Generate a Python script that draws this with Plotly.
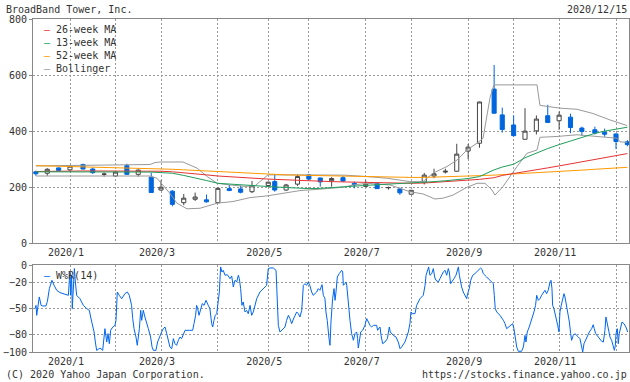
import plotly.graph_objects as go
from datetime import datetime, timedelta

# ---------------- data ----------------
week_dates = ["2019-12-16","2019-12-23","2019-12-30","2020-01-06","2020-01-14","2020-01-20","2020-01-27",
              "2020-02-03","2020-02-10","2020-02-17","2020-02-25","2020-03-02","2020-03-09","2020-03-16",
              "2020-03-23","2020-03-30","2020-04-06","2020-04-13","2020-04-20","2020-04-27","2020-05-07",
              "2020-05-11","2020-05-18","2020-05-25","2020-06-01","2020-06-08","2020-06-15","2020-06-22",
              "2020-06-29","2020-07-06","2020-07-13","2020-07-20","2020-07-27","2020-08-03","2020-08-11",
              "2020-08-17","2020-08-24","2020-08-31","2020-09-07","2020-09-14","2020-09-23","2020-09-28",
              "2020-10-05","2020-10-12","2020-10-19","2020-10-26","2020-11-02","2020-11-09","2020-11-16",
              "2020-11-24","2020-11-30","2020-12-07","2020-12-14"]
opens  = [255,250,269,262,281,265,246,240,277,246,236,190,186,145,157,155,145,195,194,184,206,220,190,211,
          244,233,223,234,214,203,213,198,194,175,218,240,254,257,329,357,550,458,422,371,401,455,437,450,
          411,405,396,390,362]
highs  = [259,268,270,278,284,270,252,258,284,264,252,225,190,176,181,174,199,208,206,222,220,247,212,244,
          247,234,236,240,220,224,214,202,199,190,251,266,266,355,354,505,636,484,456,482,456,494,470,462,
          416,416,409,391,368]
lows   = [241,241,258,256,263,247,238,237,244,238,180,187,132,136,151,145,143,188,178,179,205,184,187,205,
          224,202,202,219,196,200,194,192,173,174,210,232,249,256,300,341,463,395,381,371,388,429,405,393,
          383,388,380,336,346]
closes = [248,264,260,275,265,252,247,254,246,261,181,200,139,161,165,148,196,188,182,205,218,190,208,238,
          229,219,231,222,208,211,195,199,180,189,243,248,257,318,343,504,464,406,384,400,443,431,457,413,
          399,393,389,363,352]

ma26 = [256,257,257,257,258,258,258,258,258,258,258,257,255,252,248,244,240,237,234,231,229,228,226,224,
        222,221,220,219,218,217,217,216,215,214,215,217,219,221,224,228,234,242,249,255,262,269,276,283,
        290,298,305,313,320]
ma13 = [255,255,255,255,255,255,254,254,254,253,254,252,250,242,234,224,214,211,208,205,203,201,199,197,
        195,196,199,202,205,207,209,211,213,214,217,220,223,227,231,238,262,272,282,305,322,338,352,365,
        378,392,400,408,414]
ma52 = [277,276,275,275,274,273,272,271,270,269,268,266,264,262,260,257,254,252,250,248,246,245,244,243,
        242,241,240,239,238,237,236,236,235,235,235,236,236,237,239,241,243,245,247,249,251,254,256,258,
        261,264,266,268,271]

# Bollinger bands (daily): (days after 2019-12-16, value)
bb_upper = [(0,276),(16.7,277),(39.5,278),(49.3,280),(70.2,281),(73.3,288),(76.4,290),(90.5,290),(94.8,280),
            (99.2,268),(105.5,238),(111.5,214),(119.5,208),(128.7,203),(134.8,205),(139.2,225),(142.8,244),
            (162.5,244),(190.2,243),(203.8,238),(216.2,232),(230.2,220),(238.2,220),(244.4,250),(253.0,274),
            (259.2,297),(265.3,333),(271.5,357),(275.2,375),(279.5,520),(281.9,565),(308.4,565),(310.2,492),
            (322.5,482),(333.0,478),(342.8,463),(353.3,440),(363.8,420)]
bb_lower = [(0,240),(39.5,240),(70.2,240),(74.5,232),(79.5,200),(82.5,178),(86.8,143),(93.0,123),(101.0,125),
            (111.5,143),(121.3,149),(131.8,163),(142.2,169),(152.1,179),(162.5,188),(174.8,193),(189.0,200),
            (195.2,208),(203.8,214),(218.0,208),(230.2,184),(238.2,176),(245.6,158),(250.5,161),(256.7,172),
            (265.3,200),(271.5,214),(276.4,214),(280.7,190),(282.5,172),(287.4,202),(296.1,274),(302.2,321),
            (308.4,333),(310.2,378),(320.7,381),(333.0,387),(347.2,380),(357.6,375),(359.5,362),(363.8,360)]

# Williams %R(14), daily: (days after 2019-12-16, value)
wr_points = [
    (-0.5,-50.0),(0.1,-46.2),(0.5,-57.7),(1.5,-42.3),(2.1,-36.5),(3.2,-46.2),(4.2,-46.9),(6.2,-46.9),
    (7.1,-41.5),(8.3,-26.9),(9.1,-21.2),(9.9,-17.3),(11.2,-23.1),(12.8,-28.8),(14.8,-31.5),(16.9,-32.7),
    (18.9,-33.5),(20.0,-34.6),(20.6,-17.3),(21.0,-7.7),(21.4,-34.6),(22.0,-11.5),(22.4,-50.0),(23.1,-19.2),
    (23.7,-3.8),(24.3,-19.2),(25.1,-34.6),(27.1,-38.5),(29.2,-46.2),(31.3,-50.0),(32.9,-51.9),(33.7,-59.6),
    (35.0,-69.2),(35.8,-76.9),(36.6,-88.5),(37.4,-98.1),(38.4,-96.9),(39.5,-95.4),(41.1,-98.1),(41.9,-84.6),
    (42.5,-73.1),(43.6,-88.5),(44.4,-78.8),(45.2,-90.4),(46.0,-75.0),(47.3,-71.2),(48.7,-69.2),(49.3,-63.5),
    (50.1,-30.8),(51.3,-34.6),(52.8,-38.5),(54.8,-32.7),(56.3,-30.8),(57.5,-34.6),(58.9,-46.2),(59.6,-61.5),
    (60.4,-73.1),(61.6,-82.7),(62.4,-92.3),(63.7,-73.1),(64.5,-51.9),(65.1,-63.5),(66.1,-51.9),(67.1,-59.6),
    (68.2,-65.4),(69.2,-73.1),(70.6,-82.7),(71.5,-94.2),(72.3,-98.1),(73.9,-98.1),(74.9,-88.5),(76.0,-82.7),
    (77.4,-76.9),(78.4,-73.1),(79.5,-71.2),(80.5,-78.8),(81.5,-86.5),(82.5,-94.2),(83.6,-96.2),(84.6,-84.6),
    (85.6,-90.4),(86.6,-92.3),(87.7,-86.5),(88.7,-82.7),(89.7,-84.6),(90.7,-78.8),(91.8,-75.0),(94.4,-75.0),
    (96.5,-75.0),(97.3,-67.3),(98.3,-57.7),(98.9,-46.2),(99.6,-50.0),(100.4,-57.7),(101.4,-50.0),(102.4,-44.2),
    (103.5,-46.2),(104.7,-40.4),(106.1,-46.2),(107.1,-50.0),(108.2,-67.3),(108.8,-71.2),(109.6,-63.5),
    (110.4,-57.7),(111.3,-55.8),(112.3,-42.3),(112.9,-30.8),(113.7,-1.9),(114.5,-7.7),(115.3,-5.8),
    (116.4,-11.5),(117.8,-10.8),(119.5,-15.4),(120.5,-12.3),(121.5,-25.0),(122.5,-17.3),(123.6,-19.2),
    (124.6,-11.5),(125.2,-15.4),(126.0,-26.9),(126.8,-46.2),(127.6,-42.3),(128.7,-53.8),(129.7,-51.9),
    (130.7,-55.8),(131.8,-46.2),(132.8,-57.7),(133.8,-53.8),(134.8,-46.2),(135.9,-38.5),(137.9,-30.8),
    (140.0,-26.9),(142.0,-23.1),(143.0,-3.8),(144.1,-3.1),(146.1,-3.1),(147.8,-5.8),(148.6,-42.3),
    (149.2,-69.2),(150.2,-76.9),(151.9,-74.2),(153.3,-71.2),(154.3,-63.5),(155.4,-57.7),(156.4,-61.5),
    (157.4,-67.3),(158.8,-60.8),(160.5,-53.8),(161.5,-55.8),(162.5,-59.6),(163.6,-51.9),(164.6,-23.1),
    (165.6,-21.2),(166.6,-23.1),(167.6,-19.2),(168.7,-23.8),(169.7,-30.8),(170.7,-34.6),(172.8,-30.8),
    (173.8,-26.9),(174.8,-28.8),(176.1,-22.3),(176.9,-34.6),(177.9,-38.5),(178.5,-53.8),(179.3,-63.5),
    (180.4,-84.6),(181.0,-92.3),(181.6,-65.4),(182.6,-38.5),(183.5,-26.9),(184.1,-40.4),(184.7,-30.8),
    (185.5,-13.5),(186.7,-9.6),(188.2,-5.8),(188.8,-7.7),(189.2,-23.1),(190.2,-21.2),(190.8,-19.2),
    (191.3,-23.1),(192.3,-46.2),(193.3,-63.5),(194.3,-78.8),(195.4,-86.5),(196.4,-78.8),(197.4,-76.9),
    (198.0,-84.6),(198.4,-95.4),(199.0,-88.5),(199.9,-76.9),(201.1,-75.0),(202.5,-69.2),(203.6,-61.5),
    (204.6,-65.4),(205.6,-69.2),(206.6,-71.2),(207.7,-69.2),(209.7,-69.2),(210.3,-75.0),(211.2,-72.3),
    (211.8,-71.2),(212.4,-80.8),(213.4,-90.4),(214.8,-88.5),(216.3,-84.6),(217.5,-71.2),(218.1,-76.9),
    (220.0,-80.8),(221.6,-82.7),(223.0,-88.5),(224.1,-96.2),(225.1,-94.2),(226.1,-91.5),(227.1,-88.5),
    (228.2,-82.7),(229.2,-76.9),(230.2,-67.3),(230.8,-53.8),(231.9,-55.8),(233.3,-55.8),(234.3,-46.2),
    (235.4,-42.3),(236.4,-38.5),(238.4,-34.6),(239.5,-23.1),(240.1,-11.5),(240.9,-5.8),(241.7,-1.9),
    (242.5,-11.5),(243.6,-9.6),(244.6,-3.8),(245.4,-13.5),(246.2,-17.3),(247.7,-19.2),(248.7,-15.4),
    (249.7,-11.5),(250.7,-7.7),(251.8,-5.8),(252.8,-11.5),(253.8,-3.8),(254.4,-7.7),(255.2,-21.2),
    (256.3,-17.3),(257.3,-15.4),(258.5,-11.5),(260.0,-1.9),(260.6,-11.5),(261.4,-21.2),(262.0,-25.0),
    (263.0,-30.8),(264.1,-34.6),(265.1,-38.5),(265.7,-32.7),(266.7,-26.9),(267.6,-17.3),(268.8,-11.5),
    (270.2,-9.6),(271.2,-7.7),(272.7,-4.6),(273.7,-3.1),(274.5,-4.6),(275.3,-9.6),(277.4,-13.5),
    (279.4,-17.3),(281.5,-21.2),(282.1,-34.6),(282.7,-50.0),(283.6,-53.8),(285.6,-57.7),(287.7,-63.5),
    (288.7,-67.3),(289.7,-73.1),(291.8,-69.2),(293.4,-67.3),(294.2,-73.1),(295.0,-84.6),(295.9,-94.2),
    (296.9,-99.2),(298.9,-99.2),(300.0,-94.2),(301.0,-80.8),(301.6,-88.5),(302.4,-76.9),(303.6,-71.2),
    (305.1,-63.5),(306.5,-53.8),(307.5,-46.2),(308.2,-34.6),(309.2,-40.4),(310.2,-38.5),(311.2,-34.6),
    (313.3,-28.8),(314.3,-32.7),(315.3,-28.8),(316.4,-19.2),(317.0,-17.3),(317.6,-26.9),(318.0,-46.2),
    (318.8,-50.0),(320.1,-63.5),(321.1,-69.2),(321.9,-76.9),(322.5,-53.8),(323.3,-46.2),(324.2,-38.5),
    (325.0,-32.7),(325.6,-36.5),(326.6,-46.2),(327.4,-53.8),(328.3,-65.4),(329.1,-78.8),(329.7,-86.5),
    (330.7,-80.8),(331.7,-78.8),(333.8,-82.7),(334.8,-84.6),(335.9,-94.2),(336.5,-100.0),(337.3,-90.4),
    (338.3,-86.5),(339.3,-80.8),(340.6,-76.9),(342.0,-73.1),(343.0,-68.5),(343.6,-73.1),(344.5,-78.8),
    (346.1,-82.7),(348.2,-87.7),(349.2,-88.5),(350.2,-75.0),(350.8,-59.6),(351.6,-67.3),(352.5,-76.9),
    (353.3,-82.7),(354.3,-86.5),(355.3,-94.2),(356.0,-98.1),(356.6,-92.3),(357.0,-78.8),(357.8,-73.1),
    (358.4,-90.4),(359.0,-78.8),(359.9,-73.1),(360.7,-65.4),(361.9,-67.3),(363.1,-71.2),(364.2,-76.9),
]

month_ticks = ["2020-01-06","2020-02-03","2020-03-02","2020-04-06","2020-05-07","2020-06-01",
               "2020-07-06","2020-08-03","2020-09-07","2020-10-05","2020-11-02","2020-12-07"]
month_labels = ["2020/1","","2020/3","","2020/5","","2020/7","","2020/9","","2020/11",""]
price_ticks = [0, 200, 400, 600, 800]
wr_ticks = [-100, -80, -50, -20, 0]

# ---------------- helpers ----------------
start = datetime(2019, 12, 16)
def to_dates(days):
    return [start + timedelta(days=d) for d in days]

FONT = "DejaVu Sans Mono"
TXT = "#333333"
GRID = "#999999"
FRAME = "#888888"
C_RED, C_GREEN, C_ORANGE, C_GRAY = "#e53333", "#1f9e5a", "#ff9900", "#999999"
C_BLUE = "#0066dd"

W, H = 630, 382
ML, MR, MT, MB = 33, 1, 19, 30
PW, PH = W - ML - MR, H - MT - MB
def px(x):
    return (x - ML) / PW
def py(y):
    return (H - MB - y) / PH

fig = go.Figure()

# Bollinger
for band in (bb_upper, bb_lower):
    fig.add_trace(go.Scatter(x=to_dates([p[0] for p in band]), y=[p[1] for p in band], mode="lines",
                             line=dict(color=C_GRAY, width=1), showlegend=False, hoverinfo="skip"))
# moving averages
for vals, col in ((ma52, C_ORANGE), (ma26, C_RED), (ma13, C_GREEN)):
    fig.add_trace(go.Scatter(x=week_dates, y=vals, mode="lines", line=dict(color=col, width=1),
                             showlegend=False, hoverinfo="skip"))
# candles
fig.add_trace(go.Candlestick(
    x=week_dates, open=opens, high=highs, low=lows, close=closes,
    increasing=dict(line=dict(color="#444444", width=1), fillcolor="#ffffff"),
    decreasing=dict(line=dict(color=C_BLUE, width=1), fillcolor=C_BLUE),
    whiskerwidth=0, showlegend=False, xaxis="x", yaxis="y"))

# Williams %R
fig.add_trace(go.Scatter(x=to_dates([p[0] for p in wr_points]), y=[p[1] for p in wr_points],
                         mode="lines", line=dict(color="#0066ee", width=1),
                         showlegend=False, xaxis="x2", yaxis="y2"))

xrange = ["2019-12-14 05:30", "2020-12-15 00:00"]
axis_common = dict(showgrid=True, gridcolor=GRID, griddash="2px,2px", gridwidth=1,
                   showline=True, linecolor=FRAME, linewidth=1, mirror=True,
                   tickfont=dict(family=FONT, size=10, color=TXT), zeroline=False)
xcommon = dict(axis_common, type="date", range=xrange, tickmode="array", tickvals=month_ticks,
               ticktext=month_labels, ticks="", ticklabelshift=-4)

main_bottom = 243.3
wr_top = 265.3
fig.update_layout(
    width=W, height=H, margin=dict(l=ML, r=MR, t=MT, b=MB),
    paper_bgcolor="white", plot_bgcolor="white", boxgap=0.1,
    font=dict(family=FONT, size=10, color=TXT),
    xaxis=dict(xcommon, domain=[0, 1], anchor="y", rangeslider=dict(visible=False)),
    xaxis2=dict(xcommon, domain=[0, 1], anchor="y2", matches="x"),
    yaxis=dict(axis_common, domain=[py(main_bottom), 1], range=[0, 800], tickmode="array",
               tickvals=price_ticks, ticks="outside", ticklen=3, tickcolor=FRAME),
    yaxis2=dict(axis_common, domain=[0, py(wr_top)], range=[-100, 0], tickmode="array",
                tickvals=wr_ticks, ticks="outside", ticklen=3, tickcolor=FRAME),
    hovermode=False,
)

def ann(x, y, text, xanchor="left"):
    fig.add_annotation(x=px(x), y=py(y), xref="paper", yref="paper", text=text, showarrow=False,
                       xanchor=xanchor, yanchor="middle", font=dict(family=FONT, size=10, color=TXT),
                       borderpad=0)

ann(5, 9, "BroadBand Tower, Inc.")
ann(628, 9, "2020/12/15", "right")
ann(5, 374, "(C) 2020 Yahoo Japan Corporation.")
ann(628, 374, "https://stocks.finance.yahoo.co.jp", "right")

legend_items = [("26-week MA", C_RED), ("13-week MA", C_GREEN), ("52-week MA", C_ORANGE), ("Bollinger", C_GRAY)]
for i, (name, col) in enumerate(legend_items):
    ann(43, 29.5 + 13 * i, f'<span style="color:{col}">–</span> {name}')
ann(43, 275, f'<span style="color:#0066ee">–</span> W%R(14)')

fig.write_html("out.html", config={"displayModeBar": False, "staticPlot": True},
               post_script="document.body.style.margin='0';document.body.style.overflow='hidden';")
